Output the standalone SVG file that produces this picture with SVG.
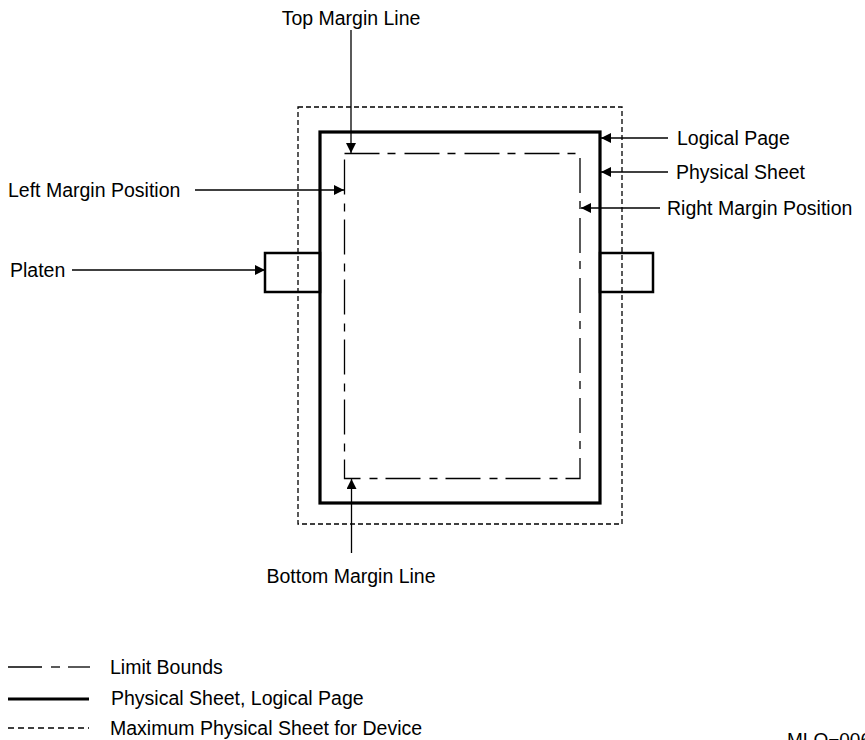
<svg xmlns="http://www.w3.org/2000/svg" width="865" height="740" viewBox="0 0 865 740">
<style>
text{font-family:"Liberation Sans",Arial,sans-serif;font-size:19.5px;fill:#000}
.thick{fill:none;stroke:#000;stroke-width:3.2}
.plat{fill:#fff;stroke:#000;stroke-width:2.5}
.dash{fill:none;stroke:#000;stroke-width:1.3;stroke-dasharray:5 3}
.dd{fill:none;stroke:#000;stroke-width:1.3;stroke-dasharray:35 8 8 9}
.ln{fill:none;stroke:#000;stroke-width:1.3}
</style>
<defs>
<marker id="ah" viewBox="0 0 10 10" refX="10" refY="5" markerWidth="16" markerHeight="10" markerUnits="userSpaceOnUse" orient="auto">
<path d="M0,0 L10,5 L0,10 Z" fill="#000"/>
</marker>
</defs>
<g id="platen-left"><rect class="plat" x="265" y="253" width="55" height="39"/></g>
<g id="platen-right"><rect class="plat" x="600" y="253" width="53" height="39"/></g>
<g id="max-sheet"><rect class="dash" x="298" y="107" width="324" height="417"/></g>
<g id="sheet"><rect class="thick" x="320" y="132" width="280" height="371"/></g>
<g id="limit-bounds"><rect class="dd" x="344.5" y="153.5" width="235.5" height="325"/></g>
<g id="connectors">
<line class="ln" x1="351" y1="30" x2="351" y2="153" marker-end="url(#ah)"/>
<line class="ln" x1="195" y1="190" x2="344" y2="190" marker-end="url(#ah)"/>
<line class="ln" x1="72" y1="270" x2="265" y2="270" marker-end="url(#ah)"/>
<line class="ln" x1="668" y1="138" x2="601" y2="138" marker-end="url(#ah)"/>
<line class="ln" x1="668" y1="172" x2="601" y2="172" marker-end="url(#ah)"/>
<line class="ln" x1="660" y1="208" x2="581" y2="208" marker-end="url(#ah)"/>
<line class="ln" x1="351.5" y1="553" x2="351.5" y2="479" marker-end="url(#ah)"/>
</g>
<g id="labels">
<text x="351" y="25" text-anchor="middle">Top Margin Line</text>
<text x="8" y="197">Left Margin Position</text>
<text x="10" y="277">Platen</text>
<text x="677" y="145">Logical Page</text>
<text x="676" y="179">Physical Sheet</text>
<text x="667" y="215">Right Margin Position</text>
<text x="351" y="583" text-anchor="middle">Bottom Margin Line</text>
</g>
<g id="legend">
<line class="ln" x1="8" y1="667" x2="42" y2="667"/>
<line class="ln" x1="51" y1="667" x2="60" y2="667"/>
<line class="ln" x1="68" y1="667" x2="90" y2="667"/>
<text x="110" y="674">Limit Bounds</text>
<line x1="8" y1="699" x2="89" y2="699" stroke="#000" stroke-width="3"/>
<text x="111" y="705">Physical Sheet, Logical Page</text>
<line x1="8" y1="728" x2="89" y2="728" stroke="#000" stroke-width="1.3" stroke-dasharray="6 4"/>
<text x="110" y="735">Maximum Physical Sheet for Device</text>
<text x="787" y="746" style="font-size:19px">MLO−0060</text>
</g>
</svg>
